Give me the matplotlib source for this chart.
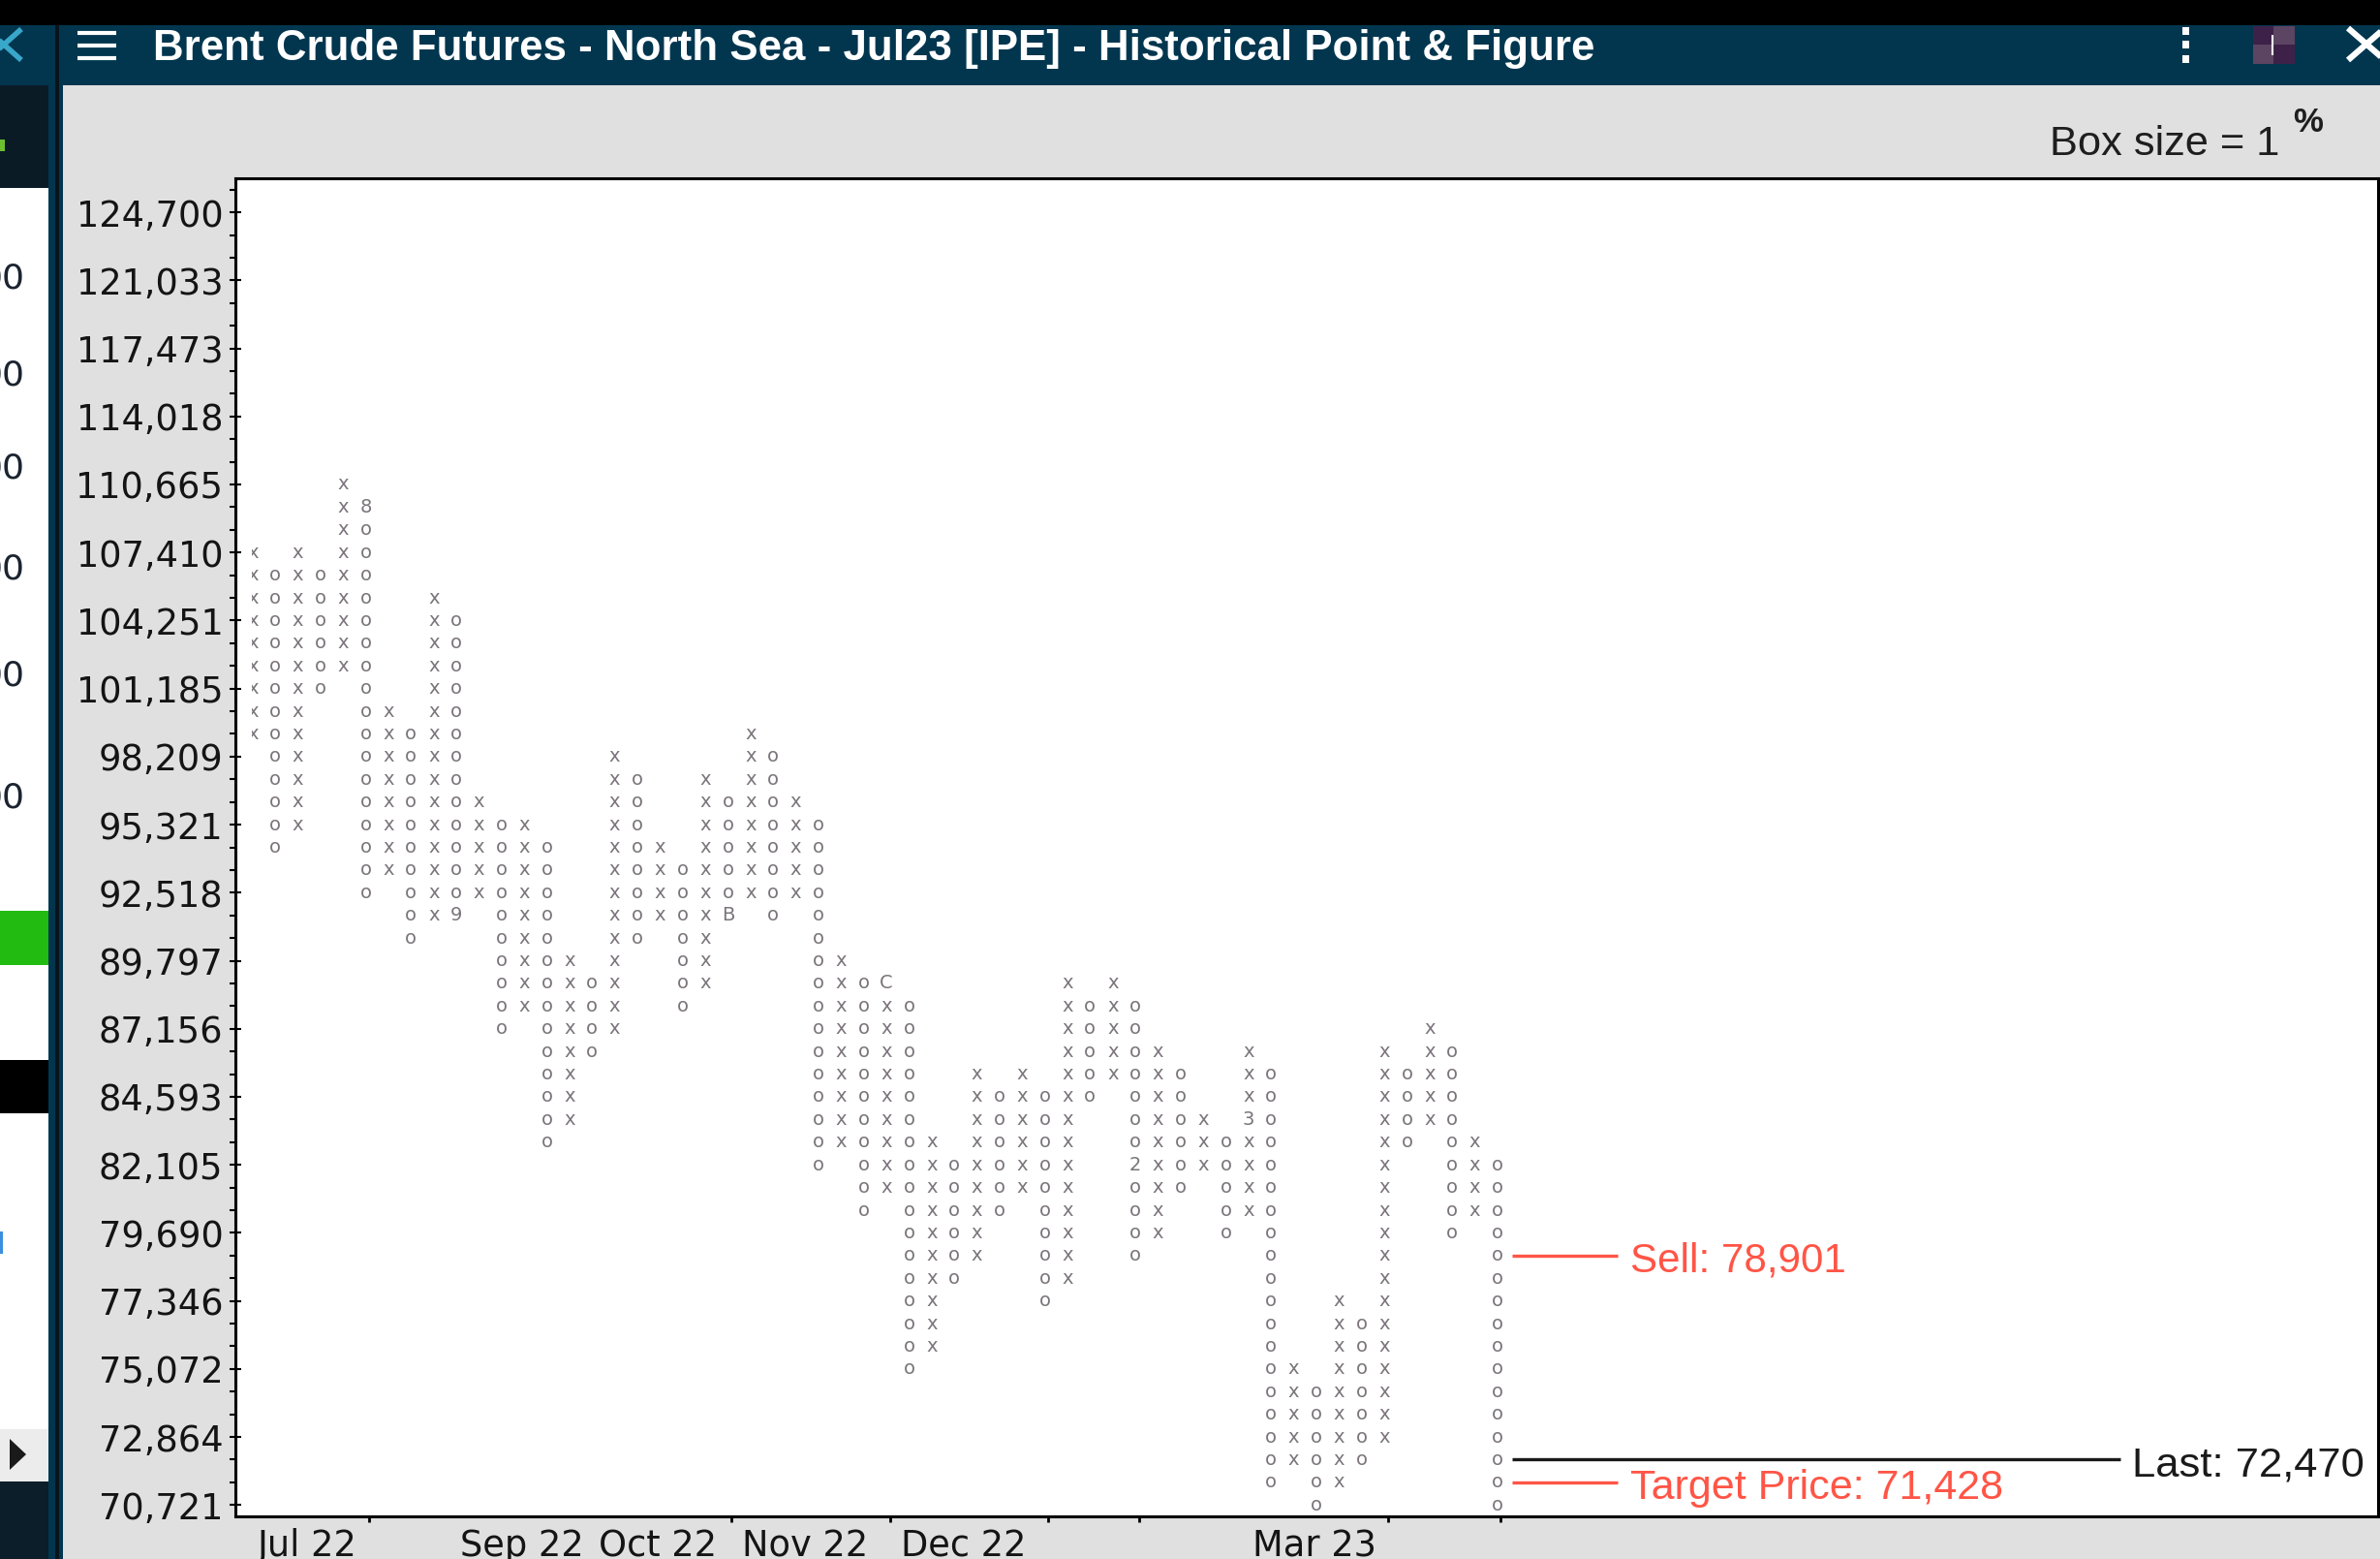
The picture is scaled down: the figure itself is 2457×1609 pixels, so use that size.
import numpy as np
import matplotlib
matplotlib.use("Agg")
import matplotlib.pyplot as plt
from matplotlib.patches import Rectangle, Polygon

# ------------------------------------------------------------
# data read from the point & figure screenshot
# ------------------------------------------------------------
BASE_PRICE = 70721      # price of box 0 (lowest label on the axis)
BOX_PCT = 1.0           # box size = 1 %

# columns alternate X / O, first one is X; low / high = box numbers above BASE_PRICE
col_kind = ["X", "O"] * 28
col_low = [34, 29, 30, 36, 37, 27, 28, 25, 26, 26,
           27, 21, 22, 16, 17, 20, 21, 25, 26, 22,
           23, 26, 27, 26, 27, 15, 16, 13, 14, 6,
           7, 10, 11, 13, 14, 9, 10, 18, 19, 11,
           12, 14, 15, 12, 13, 1, 2, 0, 1, 2,
           3, 16, 17, 12, 13, 0]
col_high = [42, 41, 42, 41, 45, 44, 35, 34, 40, 39,
            31, 30, 30, 29, 24, 23, 33, 32, 29, 28,
            32, 31, 34, 33, 31, 30, 24, 23, 23, 22,
            16, 15, 19, 18, 19, 18, 23, 22, 23, 22,
            20, 19, 17, 16, 20, 19, 6, 5, 9, 8,
            20, 19, 21, 20, 16, 15]

# month change markers drawn in place of an x / o
marker_col = [5, 9, 21, 28, 39, 44]
marker_box = [44, 26, 26, 23, 15, 17]
marker_txt = ["8", "9", "B", "C", "2", "3"]

month_names = ["Jul 22", "Aug 22", "Sep 22", "Oct 22", "Nov 22", "Dec 22",
               "Jan 23", "Feb 23", "Mar 23", "Apr 23", "May 23"]
month_first_col = [0, 5, 9, 15, 21, 28, 35, 39, 44, 50, 55]
month_shown = [True, False, True, True, True, True, False, False, True, False, False]
month_tick_cols = [5, 21, 28, 35, 39, 50, 55]

ytick_values = [70721, 72864, 75072, 77346, 79690, 82105, 84593, 87156, 89797,
                92518, 95321, 98209, 101185, 104251, 107410, 110665, 114018,
                117473, 121033, 124700]

sell_price = 78901
target_price = 71428
last_price = 72470

TITLE = "Brent Crude Futures - North Sea - Jul23 [IPE] - Historical Point & Figure"

RED = "#ff5546"
MARK = "#7b757b"
HEADER = "#02364f"
SANS = ["Liberation Sans", "DejaVu Sans"]


def to_box(price):
    return np.log(price / BASE_PRICE) / np.log(1 + BOX_PCT / 100.0)


def box_of(price):
    return int(np.floor(to_box(price) + 1e-3))


# ------------------------------------------------------------
# figure + window chrome (pixel coords, origin top-left)
# ------------------------------------------------------------
W, H = 2457, 1609
fig = plt.figure(figsize=(W / 100, H / 100), dpi=100)
fig.patch.set_facecolor("#e0e0e0")
renderer = fig.canvas.get_renderer()


def px_box(x0, y0, x1, y1, color, z=-1):
    fig.add_artist(Rectangle((x0 / W, 1 - y1 / H), (x1 - x0) / W, (y1 - y0) / H,
                             transform=fig.transFigure, facecolor=color,
                             edgecolor="none", zorder=z))


def px_line(xs, ys, color, lw, z=2):
    fig.add_artist(plt.Line2D([x / W for x in xs], [1 - y / H for y in ys],
                              transform=fig.transFigure, color=color, lw=lw,
                              solid_capstyle="butt", zorder=z))


def px_text(x, y, s, **kw):
    return fig.text(x / W, 1 - y / H, s, **kw)


def fit_width(t, width_px):
    w = t.get_window_extent(renderer).width
    t.set_fontsize(t.get_fontsize() * width_px / w)


px_box(0, 0, W, 26, "black")
px_box(0, 26, W, 88, HEADER)

# cropped side panel on the left
px_box(0, 88, 50, 194, "#0b1b26")
px_box(0, 194, 50, H, "white")
px_box(0, 144, 5, 156, "#6cc030")
px_box(0, 940, 50, 996, "#22bb12")
px_box(0, 1094, 50, 1149, "black")
px_box(0, 1271, 3, 1294, "#3b8fe0")
px_box(0, 1475, 50, 1529, "#ececec")
px_box(0, 1529, 50, H, "#0b1e2a")
px_box(50, 26, 57, H, HEADER)
px_box(57, 26, 61, H, "#08141c")
px_box(61, 88, 65, H, HEADER)
fig.add_artist(Polygon([(10 / W, 1 - 1485 / H), (27 / W, 1 - 1501 / H), (10 / W, 1 - 1517 / H)],
                       closed=True, transform=fig.transFigure, facecolor="#1a1a1a",
                       edgecolor="none", zorder=1))
for yy in [287, 388, 484, 588, 698, 823]:
    px_text(26, yy, "00", ha="right", va="center", fontsize=26, color="#1b2430")

# header icons
px_line([-14, 22], [30, 62], "#39a7c9", 4)
px_line([-14, 22], [62, 30], "#39a7c9", 4)
for yy in [34, 47, 60]:
    px_line([80, 120], [yy, yy], "white", 3)
for yy in [32, 46, 61]:
    px_box(2253, yy - 4, 2260, yy + 4, "white", z=1)
px_box(2326, 27, 2347, 46, "#3d2148", z=1)
px_box(2347, 27, 2369, 46, "#5c4463", z=1)
px_box(2326, 46, 2347, 66, "#5c4463", z=1)
px_box(2347, 46, 2369, 66, "#3d2148", z=1)
px_line([2346, 2346], [36, 57], "white", 1.5)
px_line([2424, 2462], [29, 62], "white", 4.5)
px_line([2424, 2462], [62, 29], "white", 4.5)

title = px_text(158, 62, TITLE, color="white", fontsize=30, fontweight="bold",
                family=SANS, ha="left", va="baseline", zorder=3)
fit_width(title, 1487)

box_txt = px_text(2353, 160, "Box size = 1", ha="right", va="baseline",
                  fontsize=30, family=SANS, color="#1e1e1e")
fit_width(box_txt, 237)
px_text(2383, 126, "%", ha="center", va="center", fontsize=25, fontweight="bold",
        family=SANS, color="#1e1e1e")

# ------------------------------------------------------------
# P&F plot
# ------------------------------------------------------------
ax = fig.add_axes([243 / W, 1 - 1565 / H, 2212 / W, 1381 / H])
ax.set_facecolor("white")
ax.set_xlim(-0.76, 93.9)
ax.set_ylim(-0.5, 58.5)

clip = Rectangle((-0.02, -5), 200, 100, transform=ax.transData)
markers = {(c, b): t for c, b, t in zip(marker_col, marker_box, marker_txt)}

for i, (kind, lo, hi) in enumerate(zip(col_kind, col_low, col_high)):
    for b in range(lo, hi + 1):
        ch = markers.get((i, b), kind.lower())
        t = ax.text(i, b, ch, ha="center", va="center", fontsize=14,
                    color=MARK, clip_on=True)
        t.set_clip_path(clip)

# sell / target / last lines to the right of the last column
last_col = len(col_kind) - 1
x0, x_short, x_long = last_col + 0.64, last_col + 5.3, last_col + 27.5
for price, label, color, xe in [(sell_price, "Sell", RED, x_short),
                                (target_price, "Target Price", RED, x_short),
                                (last_price, "Last", "#1a1a1a", x_long)]:
    yb = box_of(price)
    ax.plot([x0, xe], [yb, yb], color=color, lw=2.4, solid_capstyle="butt")
    t = ax.text(xe + 0.55, yb - 0.72, f"{label}: {price:,}", color=color,
                family=SANS, fontsize=30, ha="left", va="baseline")
    fit_width(t, {"Sell": 222, "Target Price": 385, "Last": 239}[label])

# axes styling
for sp in ax.spines.values():
    sp.set_linewidth(2.2)
    sp.set_color("black")

ytick_pos = [round(to_box(v)) for v in ytick_values]
ax.set_yticks(ytick_pos)
ax.set_yticklabels([f"{v:,}" for v in ytick_values])
ax.set_yticks(np.arange(0, 59), minor=True)
ax.tick_params(axis="y", which="major", direction="inout", length=8, width=1.5,
               labelsize=26.5, pad=5, labelcolor="#141414")
ax.tick_params(axis="y", which="minor", direction="out", length=4, width=1.5)

nxt = month_first_col[1:] + [len(col_kind)]
label_pos, label_txt = [], []
for name, start, end, shown in zip(month_names, month_first_col, nxt, month_shown):
    if shown:
        label_pos.append((start + end) / 2 - 0.1)
        label_txt.append(name)
ax.set_xticks(label_pos)
ax.set_xticklabels(label_txt)
ax.set_xticks(np.array(month_tick_cols) + 0.15, minor=True)
ax.tick_params(axis="x", which="major", length=0, labelsize=26.5, pad=9,
               labelcolor="#141414")
ax.tick_params(axis="x", which="minor", direction="out", length=4.5, width=2)

fig.savefig("out.png", dpi=100, facecolor=fig.get_facecolor())
